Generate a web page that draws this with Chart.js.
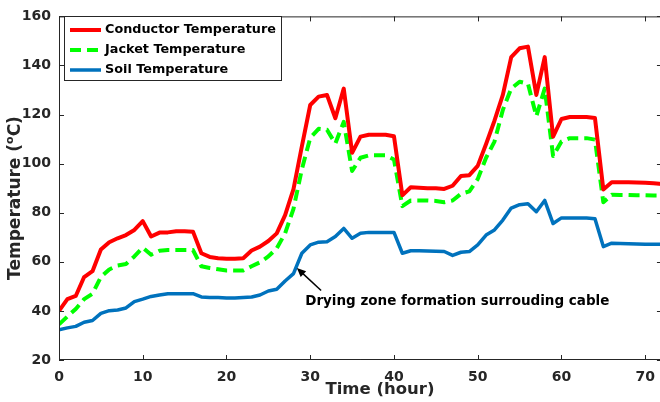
<!DOCTYPE html>
<html>
<head>
<meta charset="utf-8">
<script src="https://cdn.jsdelivr.net/npm/chart.js@4.4.0/dist/chart.umd.min.js"></script>
<style>
  html, body { margin: 0; padding: 0; background: #fff; overflow: hidden; }
  #wrap { width: 664px; height: 402px; }
</style>
</head>
<body>
<div id="wrap"><canvas id="tempChart" width="664" height="402"></canvas></div>
<script>
// hourly readings, t = 0..72 h
var hours = [];
for (var h = 0; h <= 72; h++) hours.push(h);

var conductorTemp = [
  40, 44.8, 46.1, 53.8, 56.2, 65, 68, 69.6, 70.9, 73,
  76.6, 70.3, 71.9, 72, 72.5, 72.5, 72.3, 63.5, 62, 61.5,
  61.3, 61.3, 61.5, 64.6, 66.2, 68.5, 71.6, 79, 89.6, 107,
  123.9, 127.3, 128, 118.5, 130.6, 104.4, 111, 111.8, 111.8, 111.8,
  111.2, 87.1, 90.4, 90.2, 90, 90, 89.7, 91, 95, 95.3,
  99.1, 108, 117.5, 128, 143.4, 147, 147.7, 128, 143.4, 111,
  118.2, 119, 119, 119, 118.6, 89.5, 92.4, 92.4, 92.4, 92.3,
  92.2, 92, 91.7
];
var jacketTemp = [
  34.5, 37.7, 40.8, 44.8, 47, 53.8, 56.9, 58.5, 59.1, 62.2,
  65.8, 62.9, 64.5, 64.8, 64.8, 64.8, 64.8, 58.2, 57.5, 57,
  56.5, 56.5, 56.5, 58.2, 59.8, 62.2, 65.5, 71.6, 81.6, 97.7,
  110.5, 114.2, 113.8, 108.2, 117, 97, 102.4, 103.4, 103.4, 103.4,
  101.7, 82.7, 85, 85, 85, 84.8, 84.3, 85, 87.7, 88.7,
  93.7, 102.4, 109, 121.9, 130.6, 133.4, 132.6, 119.3, 130.6, 103.1,
  109, 110.4, 110.4, 110.4, 109.8, 84.3, 87.3, 87.2, 87.2, 87.1,
  87.1, 87, 87
];
var soilTemp = [
  32.3, 33.1, 33.7, 35.4, 36.1, 39, 40.1, 40.4, 41.2, 43.8,
  44.8, 45.9, 46.5, 47, 47, 47, 47, 45.7, 45.5, 45.5,
  45.3, 45.3, 45.5, 45.7, 46.5, 48.1, 48.8, 52.2, 55.2, 63.5,
  66.9, 68, 68.2, 70.3, 73.6, 69.6, 71.6, 72, 72, 72,
  72, 63.5, 64.5, 64.5, 64.4, 64.3, 64.2, 62.6, 63.9, 64.2,
  66.9, 70.9, 73, 77, 81.9, 83.3, 83.7, 80.4, 85, 75.6,
  77.9, 77.9, 77.9, 77.9, 77.6, 66.2, 67.6, 67.5, 67.4, 67.3,
  67.2, 67.2, 67.2
];

var xTickValues = [0, 10, 20, 30, 40, 50, 60, 70];
var yTickValues = [20, 40, 60, 80, 100, 120, 140, 160];

// annotation: text anchor and arrow (data units)
var noteText = 'Drying zone formation surrouding cable';
var noteAt = { x: 29.4, y: 44 };
var arrowFrom = { x: 31.3, y: 48.3 };
var arrowTo = { x: 28.4, y: 57.5 };

var AXIS_COLOR = '#262626';
var FONT = '"DejaVu Sans", sans-serif';

function toPoints(ys) {
  return ys.map(function (v, i) { return { x: hours[i], y: v }; });
}

// box, inward ticks, axis titles, legend and the arrow note
var decorations = {
  id: 'decorations',
  afterDraw: function (chart) {
    var ctx = chart.ctx;
    var a = chart.chartArea;
    var xs = chart.scales.x, ys = chart.scales.y;
    var tl = 5;
    ctx.save();
    ctx.strokeStyle = AXIS_COLOR;
    ctx.lineWidth = 1;
    ctx.beginPath();
    ctx.rect(a.left + 0.5, a.top + 0.5, a.right - a.left, a.bottom - a.top - 1);
    xTickValues.forEach(function (v) {
      var px = Math.round(xs.getPixelForValue(v)) + 0.5;
      ctx.moveTo(px, a.bottom); ctx.lineTo(px, a.bottom - tl);
      ctx.moveTo(px, a.top); ctx.lineTo(px, a.top + tl);
    });
    yTickValues.forEach(function (v) {
      var py = Math.round(ys.getPixelForValue(v)) + 0.5;
      ctx.moveTo(a.left, py); ctx.lineTo(a.left + tl, py);
      ctx.moveTo(a.right, py); ctx.lineTo(a.right - tl, py);
    });
    ctx.stroke();

    // axis titles
    ctx.fillStyle = AXIS_COLOR;
    ctx.textBaseline = 'middle';
    ctx.textAlign = 'center';
    ctx.font = 'bold 16.5px ' + FONT;
    ctx.fillText('Time (hour)', 380, 390);

    ctx.save();
    ctx.translate(16, 198);
    ctx.rotate(-Math.PI / 2);
    var big = 'bold 17px ' + FONT, small = 'bold 11px ' + FONT;
    var parts = [['Temperature (', big, 0], ['o', small, -6], ['C)', big, 0]];
    var total = 0;
    parts.forEach(function (p) { ctx.font = p[1]; total += ctx.measureText(p[0]).width; });
    var cx = -total / 2;
    ctx.textAlign = 'left';
    parts.forEach(function (p) {
      ctx.font = p[1];
      ctx.fillText(p[0], cx, p[2]);
      cx += ctx.measureText(p[0]).width;
    });
    ctx.restore();

    // legend
    var lx = 64.5, ly = 16.5, lw = 217, lh = 64;
    ctx.fillStyle = '#fff';
    ctx.fillRect(lx, ly, lw, lh);
    ctx.strokeRect(lx, ly, lw, lh);
    ctx.font = 'bold 12.8px ' + FONT;
    ctx.textAlign = 'left';
    ctx.textBaseline = 'middle';
    chart.data.datasets.forEach(function (ds, i) {
      var ry = 30 + i * 20;
      ctx.beginPath();
      ctx.strokeStyle = ds.borderColor;
      ctx.lineWidth = ds.borderWidth;
      ctx.setLineDash(ds.borderDash || []);
      ctx.moveTo(70, ry); ctx.lineTo(101, ry);
      ctx.stroke();
      ctx.setLineDash([]);
      ctx.fillStyle = '#000';
      ctx.fillText(ds.label, 105, ry);
    });

    // arrow note
    var x0 = xs.getPixelForValue(arrowFrom.x), y0 = ys.getPixelForValue(arrowFrom.y);
    var x1 = xs.getPixelForValue(arrowTo.x), y1 = ys.getPixelForValue(arrowTo.y);
    var ang = Math.atan2(y1 - y0, x1 - x0);
    var hl = 9, hw = 4;
    ctx.strokeStyle = '#000';
    ctx.fillStyle = '#000';
    ctx.lineWidth = 1.5;
    ctx.beginPath();
    ctx.moveTo(x0, y0);
    ctx.lineTo(x1 - Math.cos(ang) * hl * 0.8, y1 - Math.sin(ang) * hl * 0.8);
    ctx.stroke();
    ctx.beginPath();
    ctx.moveTo(x1, y1);
    ctx.lineTo(x1 - Math.cos(ang) * hl - Math.sin(ang) * hw, y1 - Math.sin(ang) * hl + Math.cos(ang) * hw);
    ctx.lineTo(x1 - Math.cos(ang) * hl + Math.sin(ang) * hw, y1 - Math.sin(ang) * hl - Math.cos(ang) * hw);
    ctx.closePath();
    ctx.fill();
    ctx.font = 'bold 13.5px ' + FONT;
    ctx.textAlign = 'left';
    ctx.textBaseline = 'middle';
    ctx.fillText(noteText, xs.getPixelForValue(noteAt.x), ys.getPixelForValue(noteAt.y));
    ctx.restore();
  }
};

var ctx = document.getElementById('tempChart');
var tempChart = new Chart(ctx, {
  type: 'line',
  data: {
    datasets: [
      {
        label: 'Conductor Temperature',
        data: toPoints(conductorTemp),
        borderColor: '#ff0000',
        borderWidth: 4
      },
      {
        label: 'Jacket Temperature',
        data: toPoints(jacketTemp),
        borderColor: '#00ff00',
        borderWidth: 4,
        borderDash: [11, 6]
      },
      {
        label: 'Soil Temperature',
        data: toPoints(soilTemp),
        borderColor: '#0072bd',
        borderWidth: 3.5
      }
    ]
  },
  options: {
    responsive: false,
    animation: false,
    devicePixelRatio: 1,
    layout: { padding: { top: 12, right: 2, left: 0, bottom: 0 } },
    elements: { point: { radius: 0 }, line: { tension: 0, borderJoinStyle: 'round' } },
    plugins: { legend: { display: false }, tooltip: { enabled: false } },
    scales: {
      x: {
        type: 'linear',
        min: 0,
        max: 72,
        grid: { display: false, drawTicks: false },
        border: { display: false },
        afterBuildTicks: function (s) { s.ticks = xTickValues.map(function (v) { return { value: v }; }); },
        afterFit: function (s) { s.height = 42; },
        ticks: { padding: 9, color: AXIS_COLOR, font: { family: FONT, size: 14, weight: 'bold' }, maxRotation: 0 }
      },
      y: {
        min: 20,
        max: 160,
        grid: { display: false, drawTicks: false },
        border: { display: false },
        afterBuildTicks: function (s) { s.ticks = yTickValues.map(function (v) { return { value: v }; }); },
        afterFit: function (s) { s.width = 59; },
        ticks: { padding: 8, color: AXIS_COLOR, font: { family: FONT, size: 14, weight: 'bold' } }
      }
    }
  },
  plugins: [decorations]
});
</script>
</body>
</html>
